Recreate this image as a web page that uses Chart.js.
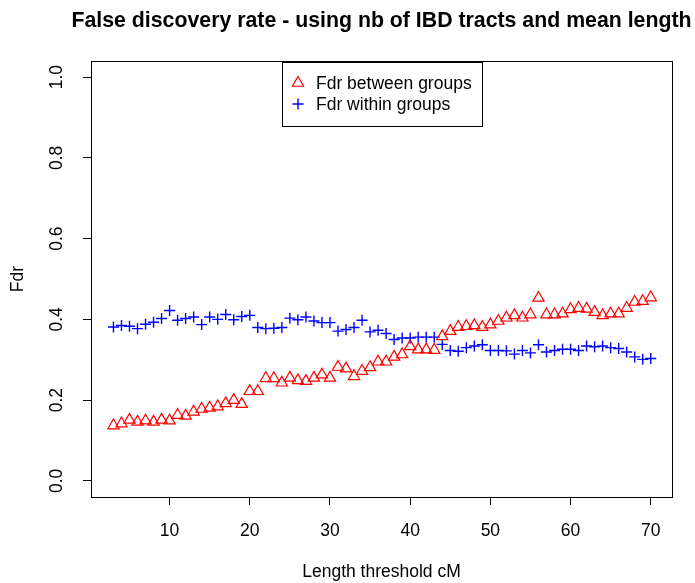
<!DOCTYPE html>
<html><head><meta charset="utf-8">
<script src="https://cdn.jsdelivr.net/npm/chart.js@4.4.1/dist/chart.umd.min.js"></script>
<style>html,body{margin:0;padding:0;background:#fff;}#wrap{width:695px;height:583px;position:relative;}canvas{display:block;}</style>
</head><body><div id="wrap"><canvas id="c" width="695" height="583"></canvas></div>
<script>
const chartTitle = 'False discovery rate - using nb of IBD tracts and mean length';
const xTitle = 'Length threshold cM';
const yTitle = 'Fdr';
const seriesLabels = ['Fdr between groups', 'Fdr within groups'];
const lengthThresholds = [3,4,5,6,7,8,9,10,11,12,13,14,15,16,17,18,19,20,21,22,23,24,25,26,27,28,29,30,31,32,33,34,35,36,37,38,39,40,41,42,43,44,45,46,47,48,49,50,51,52,53,54,55,56,57,58,59,60,61,62,63,64,65,66,67,68,69,70];
const fdrBetween = [0.137,0.142,0.151,0.146,0.149,0.146,0.151,0.149,0.163,0.161,0.171,0.178,0.181,0.184,0.192,0.200,0.190,0.222,0.222,0.254,0.254,0.243,0.255,0.249,0.247,0.255,0.263,0.255,0.282,0.278,0.259,0.272,0.281,0.295,0.295,0.307,0.313,0.333,0.325,0.325,0.324,0.358,0.371,0.381,0.383,0.385,0.381,0.387,0.396,0.404,0.410,0.404,0.412,0.453,0.412,0.412,0.414,0.425,0.428,0.426,0.418,0.410,0.414,0.414,0.428,0.443,0.445,0.454];
const fdrWithin = [0.381,0.385,0.383,0.377,0.388,0.393,0.402,0.422,0.398,0.402,0.406,0.387,0.406,0.400,0.412,0.399,0.407,0.410,0.380,0.377,0.378,0.380,0.403,0.399,0.406,0.396,0.392,0.392,0.371,0.375,0.380,0.398,0.369,0.373,0.365,0.350,0.354,0.354,0.356,0.356,0.356,0.338,0.323,0.321,0.330,0.334,0.337,0.323,0.323,0.322,0.314,0.323,0.317,0.337,0.319,0.323,0.326,0.326,0.323,0.334,0.332,0.334,0.330,0.328,0.319,0.307,0.301,0.303];
const xTicks = [10,20,30,40,50,60,70];
const yTicks = [0.0,0.2,0.4,0.6,0.8,1.0];

const FONT = "'Liberation Sans', Arial, Helvetica, sans-serif";
const BASE = 17.5;

const boxPlugin = {
  id: 'rbox',
  afterDraw(chart) {
    const ctx = chart.ctx, a = chart.chartArea;
    ctx.save();
    ctx.strokeStyle = '#000'; ctx.lineWidth = 1;
    ctx.strokeRect(Math.round(a.left) + 0.5, Math.round(a.top) + 0.5, Math.round(a.right - a.left), Math.round(a.bottom - a.top));
    // title
    ctx.fillStyle = '#000';
    ctx.font = 'bold 21.3px ' + FONT;
    ctx.textAlign = 'center'; ctx.textBaseline = 'alphabetic';
    ctx.fillText(chartTitle, (a.left + a.right) / 2, 27);
    // legend
    const lx = 282, ly = 62, lw = 200, lh = 64;
    ctx.fillStyle = '#fff';
    ctx.fillRect(lx, ly, lw, lh);
    ctx.strokeStyle = '#000';
    ctx.strokeRect(lx + 0.5, ly + 0.5, lw, lh);
    ctx.font = BASE + 'px ' + FONT;
    ctx.textAlign = 'left'; ctx.textBaseline = 'middle';
    chart.data.datasets.forEach((ds, i) => {
      const cy = 83 + i * 21, cx = 298;
      ctx.strokeStyle = ds.borderColor; ctx.lineWidth = ds.borderWidth;
      ctx.beginPath();
      const r = ds.pointRadius;
      if (ds.pointStyle === 'triangle') {
        ctx.moveTo(cx, cy - r);
        ctx.lineTo(cx + r * Math.sin(2 * Math.PI / 3), cy - r * Math.cos(2 * Math.PI / 3));
        ctx.lineTo(cx - r * Math.sin(2 * Math.PI / 3), cy - r * Math.cos(2 * Math.PI / 3));
        ctx.closePath();
      } else {
        ctx.moveTo(cx - r, cy); ctx.lineTo(cx + r, cy);
        ctx.moveTo(cx, cy - r); ctx.lineTo(cx, cy + r);
      }
      ctx.stroke();
      ctx.fillStyle = '#000';
      ctx.fillText(ds.label, 316, cy + 1);
    });
    ctx.restore();
  }
};

new Chart(document.getElementById('c'), {
  type: 'scatter',
  data: {
    datasets: [
      {label: seriesLabels[0], data: lengthThresholds.map((x, i) => ({x: x, y: fdrBetween[i]})),
       pointStyle: 'triangle', pointRadius: 6.5, borderColor: '#ff0000', backgroundColor: 'rgba(0,0,0,0)', borderWidth: 1.2, showLine: false},
      {label: seriesLabels[1], data: lengthThresholds.map((x, i) => ({x: x, y: fdrWithin[i]})),
       pointStyle: 'cross', pointRadius: 5.5, borderColor: '#0000ff', backgroundColor: '#0000ff', borderWidth: 1.4, showLine: false}
    ]
  },
  options: {
    responsive: false, animation: false, events: [], devicePixelRatio: 1,
    layout: {padding: {top: 61, right: 23, left: 0, bottom: 0}},
    plugins: {legend: {display: false}, tooltip: {enabled: false}, title: {display: false}},
    scales: {
      x: {
        type: 'linear', min: 0.2, max: 72.65,
        afterBuildTicks: s => { s.ticks = xTicks.map(v => ({value: v})); },
        afterFit: s => { s.height = 86; },
        grid: {display: true, drawOnChartArea: false, drawTicks: true, tickLength: 8, color: '#000', lineWidth: 1},
        border: {display: false},
        ticks: {color: '#000', font: {size: BASE, family: FONT}, padding: 16, maxRotation: 0, minRotation: 0, autoSkip: false},
        title: {display: true, text: xTitle, color: '#000', font: {size: BASE, family: FONT}, padding: {top: 0, bottom: 0}}
      },
      y: {
        type: 'linear', min: -0.04, max: 1.04,
        afterBuildTicks: s => { s.ticks = yTicks.map(v => ({value: v})); },
        afterFit: s => { s.width = 91; },
        grid: {display: true, drawOnChartArea: false, drawTicks: true, tickLength: 8, color: '#000', lineWidth: 1},
        border: {display: false},
        ticks: {color: '#000', font: {size: BASE, family: FONT}, padding: 14, minRotation: 90, maxRotation: 90, crossAlign: 'center', autoSkip: false,
                callback: v => Number(v).toFixed(1)},
        title: {display: true, text: yTitle, color: '#000', font: {size: BASE, family: FONT}, padding: {top: 8, bottom: 0}}
      }
    }
  },
  plugins: [boxPlugin]
});
</script>
</body></html>
